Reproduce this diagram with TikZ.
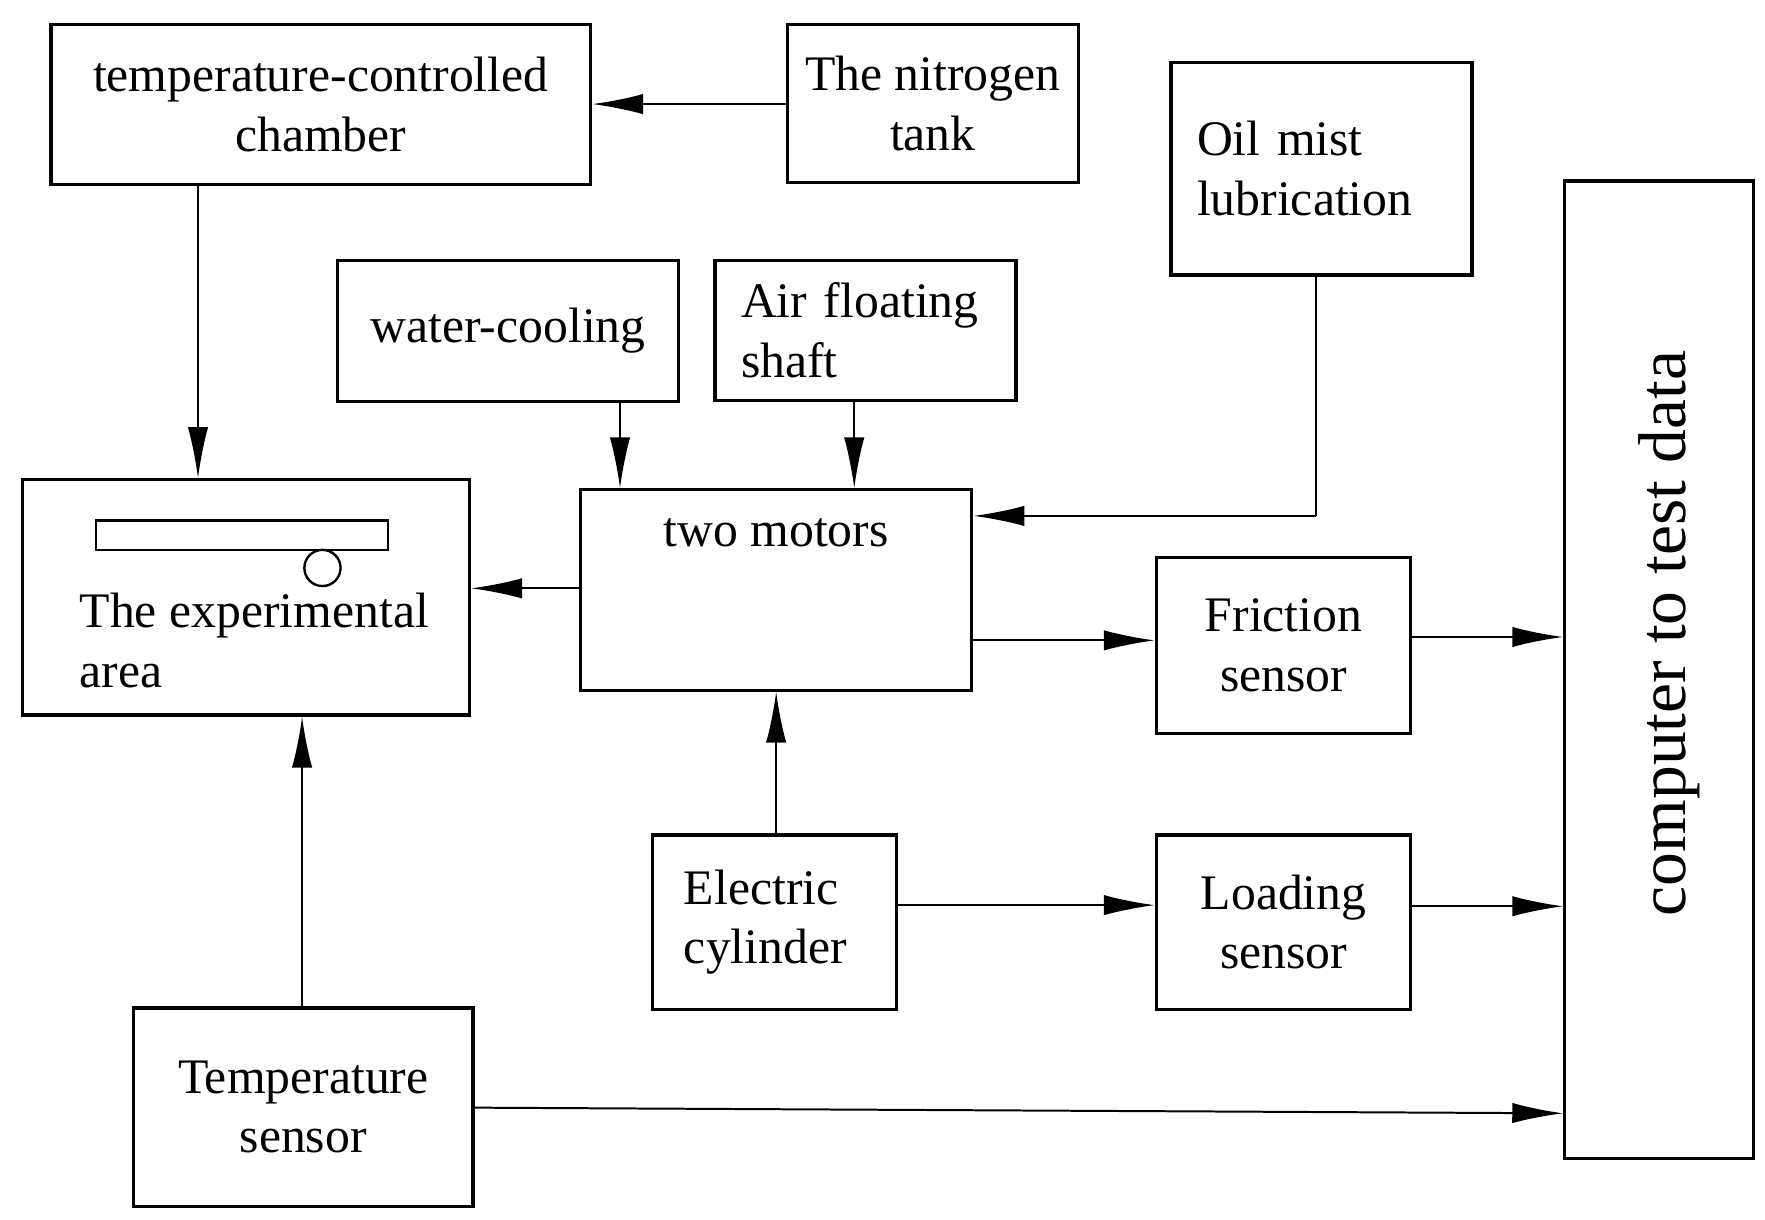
\documentclass[tikz,border=0pt]{standalone}
\usepackage{fontspec}
\setmainfont{Liberation Serif}
\usetikzlibrary{arrows.meta}
\begin{document}
\begin{tikzpicture}[
  box/.style={draw, line width=0.8pt, inner sep=0pt, font=\fontsize{12.5}{15}\selectfont, align=center},
  arr/.style={line width=0.5pt, -{Latex[length=4.5mm,width=1.8mm]}},
  ln/.style={line width=0.5pt}]
\useasboundingbox (0,0) rectangle (15.6,-10.78);
% boxes
\node[box, minimum width=4.77cm, minimum height=1.41cm] (tcc) at (2.835,-0.925) {temperature-controlled\\chamber};
\node[box, minimum width=2.57cm, minimum height=1.39cm] (nit) at (8.245,-0.915) {The nitrogen\\tank};
\node[box, minimum width=2.66cm, minimum height=1.88cm, align=left, text width=2.2cm] (oil) at (11.68,-1.49) {Oil mist\\lubrication\\[8pt]};
\node[box, minimum width=1.67cm, minimum height=8.64cm] (comp) at (14.665,-5.92) {};
\node[rotate=90, font=\fontsize{17}{20}\selectfont] (comptxt) at (14.75,-5.6) {computer to test data};
\node[box, minimum width=3.02cm, minimum height=1.25cm] (water) at (4.49,-2.925) {water-cooling};
\node[box, minimum width=2.66cm, minimum height=1.24cm, align=left, text width=2.2cm] (air) at (7.65,-2.92) {Air floating\\shaft};
\node[box, minimum width=3.95cm, minimum height=2.08cm] (exp) at (2.175,-5.28) {};
\node[align=left, font=\fontsize{12.5}{15}\selectfont, anchor=west] (exptxt) at (0.58,-5.66) {The experimental\\area};
\node[draw, line width=0.6pt, minimum width=2.58cm, minimum height=0.26cm, inner sep=0pt] (bar) at (2.14,-4.73) {};
\node[draw, circle, line width=0.6pt, minimum size=0.32cm, inner sep=0pt] (ball) at (2.85,-5.02) {};
\node[box, minimum width=3.46cm, minimum height=1.77cm] (mot) at (6.86,-5.215) {two motors\\[14pt]};
\node[box, minimum width=2.25cm, minimum height=1.55cm] (fri) at (11.345,-5.705) {Friction\\sensor};
\node[box, minimum width=2.15cm, minimum height=1.54cm, align=left, text width=1.6cm] (ele) at (6.845,-8.15) {Electric\\cylinder};
\node[box, minimum width=2.25cm, minimum height=1.54cm] (load) at (11.345,-8.15) {Loading\\sensor};
\node[box, minimum width=3.0cm, minimum height=1.75cm] (temp) at (2.68,-9.785) {Temperature\\sensor};
% helper coordinates
\coordinate (xa) at (1.75,0);
\coordinate (xb) at (5.48,0);
\coordinate (xc) at (7.55,0);
\coordinate (xd) at (11.63,0);
\coordinate (xe) at (6.86,0);
\coordinate (xf) at (2.67,0);
\coordinate (ya) at (0,-0.92);
\coordinate (yb) at (0,-4.56);
\coordinate (yc) at (0,-5.2);
\coordinate (yd) at (0,-5.66);
\coordinate (ye) at (0,-5.63);
\coordinate (yf) at (0,-8.0);
\coordinate (yg) at (0,-8.01);
\coordinate (yh) at (0,-9.79);
\coordinate (yi) at (0,-9.84);
\coordinate (bend) at (11.63,-4.56);
% connectors
\draw[arr] (nit.west |- ya) -- (tcc.east |- ya);
\draw[arr] (tcc.south -| xa) -- (exp.north -| xa);
\draw[arr] (water.south -| xb) -- (mot.north -| xb);
\draw[arr] (air.south -| xc) -- (mot.north -| xc);
\draw[ln] (oil.south -| xd) -- (bend);
\draw[arr] (bend) -- (mot.east |- yb);
\draw[arr] (mot.west |- yc) -- (exp.east |- yc);
\draw[arr] (mot.east |- yd) -- (fri.west |- yd);
\draw[arr] (fri.east |- ye) -- (comp.west |- ye);
\draw[arr] (ele.north -| xe) -- (mot.south -| xe);
\draw[arr] (ele.east |- yf) -- (load.west |- yf);
\draw[arr] (load.east |- yg) -- (comp.west |- yg);
\draw[arr] (temp.north -| xf) -- (exp.south -| xf);
\draw[arr] (temp.east |- yh) -- (comp.west |- yi);
\end{tikzpicture}
\end{document}
